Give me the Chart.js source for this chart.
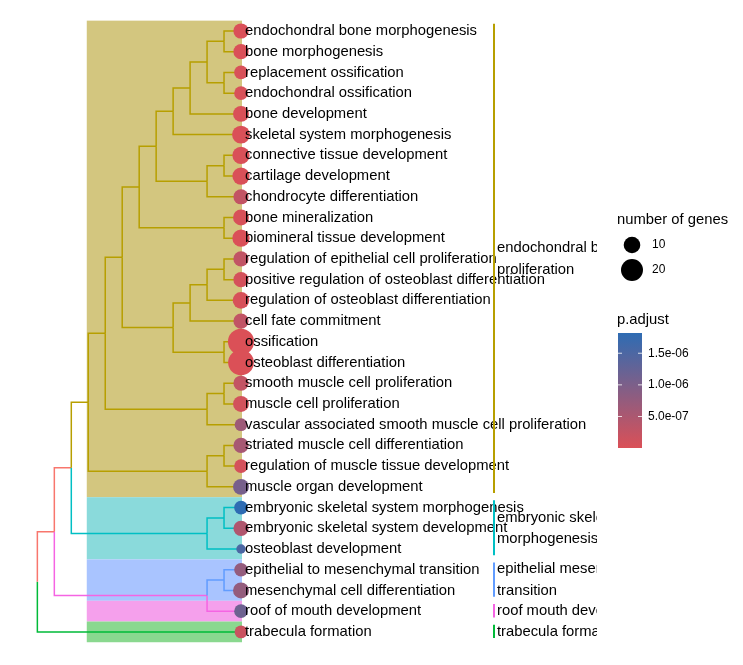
<!DOCTYPE html>
<html>
<head>
<meta charset="utf-8">
<script src="https://cdn.jsdelivr.net/npm/chart.js@4/dist/chart.umd.min.js"></script>
<style>
  body { margin: 0; background: #fff; }
  canvas { display: block; }
</style>
</head>
<body>
<canvas id="chart" width="743" height="665"></canvas>
<script>
// GO terms, top to bottom
const terms = [
  "endochondral bone morphogenesis", "bone morphogenesis", "replacement ossification",
  "endochondral ossification", "bone development", "skeletal system morphogenesis",
  "connective tissue development", "cartilage development", "chondrocyte differentiation",
  "bone mineralization", "biomineral tissue development", "regulation of epithelial cell proliferation",
  "positive regulation of osteoblast differentiation", "regulation of osteoblast differentiation",
  "cell fate commitment", "ossification", "osteoblast differentiation",
  "smooth muscle cell proliferation", "muscle cell proliferation",
  "vascular associated smooth muscle cell proliferation", "striated muscle cell differentiation",
  "regulation of muscle tissue development", "muscle organ development",
  "embryonic skeletal system morphogenesis", "embryonic skeletal system development",
  "osteoblast development", "epithelial to mesenchymal transition",
  "mesenchymal cell differentiation", "roof of mouth development", "trabecula formation"
];
const geneCount = [8, 8, 6, 6, 9, 12, 11, 11, 8, 9, 11, 8, 8, 10, 8, 30, 29, 8, 9, 5, 8, 6, 9, 6, 8, 2, 6, 9, 6, 5];
const pAdjust = [
  1.2e-8, 1.2e-8, 3.5e-8, 3.5e-8, 2.0e-8, 1.5e-8, 1.8e-8, 1.8e-8, 2.6e-7, 4.0e-8,
  1.5e-8, 2.8e-7, 8.0e-8, 4.0e-8, 2.8e-7, 2.0e-9, 2.0e-9, 2.5e-7, 1.0e-7, 6.5e-7,
  5.5e-7, 8.0e-8, 1.05e-6, 1.82e-6, 4.5e-7, 1.5e-6, 7.5e-7, 7.5e-7, 1.15e-6, 1.8e-7
];
const clusterOf = [0,0,0,0,0,0,0,0,0,0,0,0,0,0,0,0,0,0,0,0,0,0,0,1,1,1,2,2,3,4];
const clusterNames = [
  ["endochondral bone", "proliferation"],
  ["embryonic skeletal system", "morphogenesis"],
  ["epithelial mesenchymal", "transition"],
  ["roof mouth development"],
  ["trabecula formation"]
];
const clusterColors = ["#B79F00", "#00BFC4", "#619CFF", "#F564E3", "#00BA38"];
const clusterFill = ["#D3C67F", "#8ADADB", "#A9C4FF", "#F5A0EC", "#8AD88F"];
const linkColor = "#F8766D";

// tree merges: [node, child, child, level, colour group (-1 = link)]
const merges = [
  ["A", 0, 1, 1, 0], ["B", 2, 3, 1, 0], ["C", "A", "B", 2, 0], ["D", "C", 4, 3, 0],
  ["E", "D", 5, 4, 0], ["F", 6, 7, 1, 0], ["G", "F", 8, 2, 0], ["H", "E", "G", 5, 0],
  ["I", 9, 10, 1, 0], ["J", "H", "I", 6, 0], ["K1", 11, 12, 1, 0], ["K2", "K1", 13, 2, 0],
  ["K3", "K2", 14, 3, 0], ["K4", 15, 16, 1, 0], ["K", "K3", "K4", 4, 0], ["M", "J", "K", 7, 0],
  ["N1", 17, 18, 1, 0], ["N", "N1", 19, 2, 0], ["O", "M", "N", 8, 0], ["P1", 20, 21, 1, 0],
  ["P", "P1", 22, 2, 0], ["Q", "O", "P", 9, 0], ["R1", 23, 24, 1, 1], ["R", "R1", 25, 2, 1],
  ["S", "Q", "R", 10, -1], ["T", 26, 27, 1, 2], ["U", "T", 28, 2, 3], ["V", "S", "U", 11, -1],
  ["W", "V", 29, 12, -1]
];
const sizeBreaks = [10, 20];
const pBreaks = [5e-7, 1e-6, 1.5e-6];

const lowCol = [219, 80, 87], highCol = [46, 108, 179];
const pMin = Math.min(...pAdjust), pMax = Math.max(...pAdjust);
function pColor(p) {
  const t = (p - pMin) / (pMax - pMin);
  const c = lowCol.map((v, i) => Math.round(v + (highCol[i] - v) * t));
  return `rgb(${c[0]},${c[1]},${c[2]})`;
}
const radius = n => 2.06 * Math.sqrt(n) + 1.78;
const groupColor = g => g < 0 ? linkColor : clusterColors[g];
const FONT = '"Liberation Sans", Arial, sans-serif';

// tree nodes
const nodes = {};
terms.forEach((t, i) => nodes[i] = { level: 0, row: i, group: clusterOf[i] });
merges.forEach(([id, a, b, level, group]) => {
  nodes[id] = { level, row: (nodes[a].row + nodes[b].row) / 2, group };
});

const edgeSets = [];
merges.forEach(([id, a, b]) => {
  const p = nodes[id];
  [a, b].forEach(k => {
    const c = nodes[k];
    edgeSets.push({
      type: "line",
      data: [{ x: p.level, y: p.row }, { x: p.level, y: c.row }, { x: c.level, y: c.row }],
      borderColor: groupColor(c.group),
      borderWidth: 1.5,
      pointRadius: 0,
      fill: false,
      tension: 0,
      order: 1
    });
  });
});

const clusterRanges = clusterNames.map((n, k) => {
  const rows = clusterOf.map((c, i) => c === k ? i : -1).filter(i => i >= 0);
  return [Math.min(...rows), Math.max(...rows)];
});

const treePlugin = {
  id: "tree",
  beforeDatasetsDraw(chart) {
    const { ctx, scales: { x, y } } = chart;
    const x0 = x.getPixelForValue(9), x1 = x.getPixelForValue(0);
    clusterRanges.forEach((rg, k) => {
      const y0 = y.getPixelForValue(rg[0] - 0.5), y1 = y.getPixelForValue(rg[1] + 0.5);
      ctx.fillStyle = clusterFill[k];
      ctx.fillRect(x0 - 1.5, y0, x1 - x0 + 2.5, y1 - y0);
    });
  },
  afterDatasetsDraw(chart) {
    const { ctx, scales: { x, y } } = chart;
    const leafX = x.getPixelForValue(0);
    ctx.save();
    ctx.beginPath();
    ctx.rect(0, 0, 597, chart.height);
    ctx.clip();
    ctx.fillStyle = "#000";
    ctx.textBaseline = "middle";
    ctx.textAlign = "left";
    ctx.font = "14.8px " + FONT;
    terms.forEach((t, i) => ctx.fillText(t, leafX + 4, y.getPixelForValue(i)));

    // cluster bars and names
    clusterRanges.forEach((rg, k) => {
      const bx = leafX + 253;
      ctx.strokeStyle = clusterColors[k];
      ctx.lineWidth = 2;
      ctx.beginPath();
      ctx.moveTo(bx, y.getPixelForValue(rg[0] - 0.35));
      ctx.lineTo(bx, y.getPixelForValue(rg[1] + 0.3));
      ctx.stroke();
      const mid = y.getPixelForValue((rg[0] + rg[1]) / 2);
      const lines = clusterNames[k];
      lines.forEach((ln, j) => {
        ctx.fillStyle = "#000";
        ctx.fillText(ln, bx + 3, mid + (j - (lines.length - 1) / 2) * 21.5);
      });
    });
    ctx.restore();

    // size legend
    ctx.save();
    ctx.fillStyle = "#000";
    ctx.textBaseline = "middle";
    ctx.font = "14.8px " + FONT;
    ctx.fillText("number of genes", 617, 220);
    ctx.font = "12px " + FONT;
    sizeBreaks.forEach((n, j) => {
      const cy = 245 + j * 25;
      ctx.beginPath();
      ctx.arc(632, cy, radius(n), 0, Math.PI * 2);
      ctx.fill();
      ctx.fillText(String(n), 652, cy);
    });

    // colour bar
    ctx.font = "14.8px " + FONT;
    ctx.fillText("p.adjust", 617, 320);
    const bx = 618, bw = 24, top = 333, bot = 448;
    const grad = ctx.createLinearGradient(0, bot, 0, top);
    grad.addColorStop(0, pColor(pMin));
    grad.addColorStop(0.5, pColor((pMin + pMax) / 2));
    grad.addColorStop(1, pColor(pMax));
    ctx.fillStyle = grad;
    ctx.fillRect(bx, top, bw, bot - top);
    ctx.font = "12px " + FONT;
    pBreaks.forEach(p => {
      const ty = bot - (p - pMin) / (pMax - pMin) * (bot - top);
      ctx.strokeStyle = "rgba(255,255,255,0.8)";
      ctx.lineWidth = 1;
      ctx.beginPath();
      ctx.moveTo(bx, ty); ctx.lineTo(bx + 4, ty);
      ctx.moveTo(bx + bw - 4, ty); ctx.lineTo(bx + bw, ty);
      ctx.stroke();
      ctx.fillStyle = "#000";
      ctx.fillText(p.toExponential(1).replace(/e([+-])(\d)$/, "e$10$2"), bx + bw + 6, ty);
    });
    ctx.restore();
  }
};

const pxPerLevel = 16.97, leafPx = 241;
const pxPerRow = 20.72, firstRowPx = 31;
const W = 743, H = 665;

new Chart(document.getElementById("chart").getContext("2d"), {
  type: "scatter",
  data: {
    datasets: [{
      type: "bubble",
      data: terms.map((t, i) => ({ x: 0, y: i, r: radius(geneCount[i]) })),
      backgroundColor: pAdjust.map(pColor),
      borderWidth: 0,
      clip: false,
      order: 0
    }, ...edgeSets]
  },
  options: {
    responsive: false,
    devicePixelRatio: 1,
    animation: false,
    events: [],
    layout: { padding: 0, autoPadding: false },
    plugins: { legend: { display: false }, tooltip: { enabled: false } },
    scales: {
      x: {
        type: "linear", display: false, reverse: true,
        min: leafPx / pxPerLevel - W / pxPerLevel, max: leafPx / pxPerLevel
      },
      y: {
        type: "linear", display: false, reverse: true,
        min: -firstRowPx / pxPerRow, max: (H - firstRowPx) / pxPerRow
      }
    }
  },
  plugins: [treePlugin]
});
</script>
</body>
</html>
